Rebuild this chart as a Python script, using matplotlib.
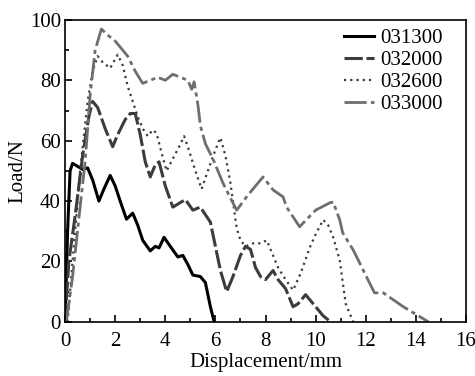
import numpy as np
import matplotlib
matplotlib.use("Agg")
import matplotlib.pyplot as plt
from matplotlib.ticker import MultipleLocator

# load-displacement curves, one per specimen
x_031300 = [0, 0.1, 0.2, 0.3, 0.5, 0.7, 0.9, 1.1, 1.35, 1.55, 1.8, 2.0, 2.2, 2.45, 2.7, 2.9,
            3.1, 3.4, 3.6, 3.75, 3.95, 4.2, 4.5, 4.7, 4.9, 5.1, 5.4, 5.6, 5.8, 5.95]
y_031300 = [0, 30, 50, 52.5, 51.5, 50.5, 51, 47, 40, 44, 48.5, 45, 40, 34, 36, 32,
            27, 23.5, 25, 24.5, 28, 25, 21.5, 22, 19, 15.5, 15, 13, 5, 0]

x_032000 = [0, 0.15, 0.4, 0.7, 0.95, 1.1, 1.3, 1.6, 1.9, 2.1, 2.4, 2.6, 2.8, 3.0, 3.2, 3.4,
            3.6, 3.75, 4.0, 4.3, 4.5, 4.8, 5.1, 5.4, 5.8, 6.0, 6.2, 6.45, 6.7, 7.0, 7.2,
            7.4, 7.6, 7.8, 8.0, 8.3, 8.5, 8.8, 9.1, 9.3, 9.6, 9.9, 10.3, 10.6]
y_032000 = [0, 20, 35, 55, 68, 73, 71, 64, 58, 62, 67, 69, 69, 62, 53, 48,
            52, 53, 45, 38, 39, 40.5, 37, 38, 33, 25, 17, 10, 15, 22, 25,
            24, 18, 15, 14, 17, 14, 11, 5, 6, 9, 6, 2, 0]

x_032600 = [0.1, 0.3, 0.6, 0.9, 1.1, 1.3, 1.5, 1.8, 2.1, 2.3, 2.5, 2.7, 2.9, 3.1, 3.3, 3.5,
            3.65, 3.85, 4.05, 4.3, 4.55, 4.75, 4.9, 5.2, 5.45, 5.7, 6.0, 6.2, 6.4, 6.6,
            6.85, 7.0, 7.2, 7.5, 7.8, 8.05, 8.3, 8.5, 8.8, 9.1, 9.4, 9.76, 10.0, 10.3,
            10.5, 10.7, 10.96, 11.2, 11.5]
y_032600 = [0, 20, 50, 73, 83, 88, 86, 84, 88.5, 85, 78, 73, 68, 64, 61.5, 63.6,
            62.5, 56, 50, 54, 58, 61.5, 58, 50, 44, 50, 57, 61, 55, 46,
            31, 27, 25, 26, 26, 27, 22, 18, 14, 10.5, 16, 24.5, 29, 33.8,
            32, 28, 20.5, 6, 0]

x_033000 = [0.05, 0.3, 0.6, 0.8, 1.0, 1.2, 1.45, 1.7, 2.0, 2.3, 2.5, 2.8, 3.1, 3.4, 3.7,
            4.0, 4.3, 4.6, 4.9, 5.05, 5.15, 5.3, 5.4, 5.6, 5.9, 6.1, 6.3, 6.6, 6.85,
            7.3, 7.9, 8.3, 8.7, 8.84, 9.36, 10.0, 10.56, 10.7, 10.96, 11.08, 11.5,
            12.15, 12.35, 12.7, 13.5, 14.5]
y_033000 = [0, 15, 38, 53, 75, 90, 97, 95, 93, 90, 88, 83, 79, 80, 81,
            80, 82, 81, 80, 77, 79.5, 72, 65, 59, 54, 50, 46, 41, 37,
            42, 48, 43.7, 41.4, 38, 31.5, 37, 39.4, 39.7, 33.8, 29.5, 23.8,
            12.9, 9.6, 9.6, 5, 0]

labels = ["031300", "032000", "032600", "033000"]

plt.rcParams["font.family"] = ["Liberation Serif", "DejaVu Serif"]
plt.rcParams["font.size"] = 15

fig = plt.figure(figsize=(4.75, 3.76), dpi=100)
ax = fig.add_axes([0.137, 0.144, 0.844, 0.803])

ax.plot(x_031300, y_031300, color="black", lw=2.2, label=labels[0])
ax.plot(x_032000, y_032000, color="#3c3c3c", lw=2.2, dashes=(6, 1.2), label=labels[1])
ax.plot(x_032600, y_032600, color="#3c3c3c", lw=1.6, dashes=(1, 1.8), label=labels[2])
ax.plot(x_033000, y_033000, color="#6e6e6e", lw=2.0, dashes=(8, 1.5, 1.5, 1.5), label=labels[3])

ax.set_xlim(0, 16)
ax.set_ylim(0, 100)
ax.xaxis.set_major_locator(MultipleLocator(2))
ax.xaxis.set_minor_locator(MultipleLocator(1))
ax.yaxis.set_major_locator(MultipleLocator(20))
ax.yaxis.set_minor_locator(MultipleLocator(10))
ax.tick_params(which="both", direction="in", top=False, right=False, width=1.2)
ax.tick_params(which="major", length=5, pad=3)
ax.tick_params(which="minor", length=3)
ax.tick_params(axis="x", which="major", pad=7)
for s in ax.spines.values():
    s.set_linewidth(1.2)

ax.set_xlabel("Displacement/mm", labelpad=2)
ax.set_ylabel("Load/N", labelpad=2)

leg = ax.legend(loc="upper right", bbox_to_anchor=(0.963, 1.0), borderaxespad=0,
                frameon=False, handlelength=1.45, handletextpad=0.3,
                labelspacing=0.12, fontsize=15)

fig.savefig("out.png", dpi=100)
